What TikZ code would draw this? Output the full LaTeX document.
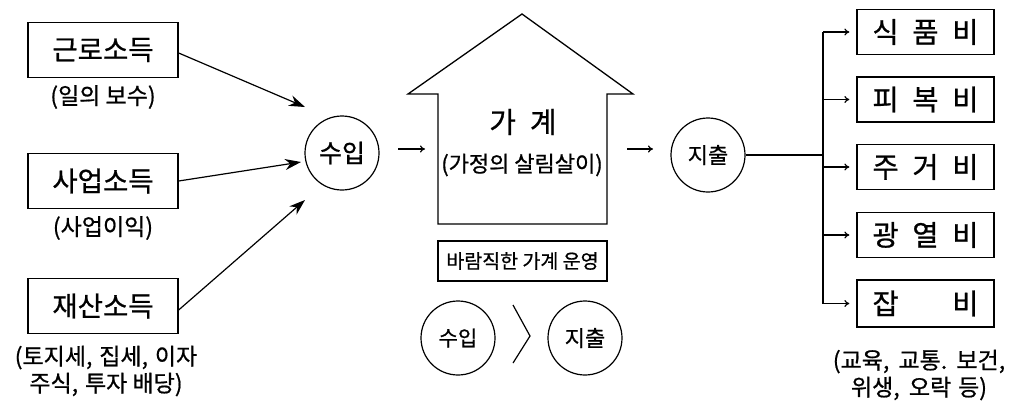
\documentclass[tikz,border=0pt]{standalone}
\usepackage{fontspec}
\newfontfamily\kr{Noto Sans CJK KR}[FakeBold=0.8]
\usetikzlibrary{arrows.meta}
\tikzset{
  box/.style={draw, line width=1.3pt, inner sep=0pt, minimum width=150pt, minimum height=55pt, font=\kr\fontsize{27.5}{30}\selectfont},
  rbox/.style={draw, line width=1.3pt, inner sep=0pt, minimum width=137pt, minimum height=45pt, font=\kr\fontsize{28.5}{30}\selectfont},
  circ/.style={draw, circle, line width=1.2pt, inner sep=0pt, minimum size=74pt},
  lbl/.style={font=\kr\fontsize{23}{27}\selectfont, align=center, inner sep=0pt},
  bigarrow/.style={line width=1.2pt, -{Stealth[length=16pt,width=11pt]}},
  sarrow/.style={line width=1.2pt, -{To[length=5pt,width=7pt]}},
}
\begin{document}
\begin{tikzpicture}[x=1pt,y=-1pt]
\useasboundingbox (0,0) rectangle (1024,400);
% left boxes
\node[box] (g1) at (103,50) {근로소득};
\node[lbl] (l1) at (103,97) {(일의 보수)};
\node[box] (g2) at (103,181) {사업소득};
\node[lbl] (l2) at (103,228) {(사업이익)};
\node[box] (g3) at (103,306) {재산소득};
\node[lbl] (l3) at (106,371) {(토지세,\hspace{0.3em}집세,\hspace{0.3em}이자\\주식,\hspace{0.3em}투자 배당)};
% income circle
\node[circ, font=\kr\fontsize{25}{27}\selectfont] (inc) at (342,153) {수입};
\coordinate (t1) at (305,107);
\coordinate (t2) at (301,162);
\coordinate (t3) at (305,200);
\draw[bigarrow] ([yshift=-3pt]g1.east) -- (t1);
\draw[bigarrow] (g2.east) -- (t2);
\draw[bigarrow] ([yshift=-4pt]g3.east) -- (t3);
% house
\draw[line width=1.3pt] (438,224) -- (438,94) -- (408,94) -- (522,14) -- (633,94) -- (607,94) -- (607,224) -- cycle;
\node[inner sep=0pt, minimum width=169pt, minimum height=130pt] (house) at (522.5,159) {};
\node[font=\kr\fontsize{29}{30}\selectfont, inner sep=0pt] (hh) at (523,122) {가\hspace{14pt}계};
\node[font=\kr\fontsize{22}{24}\selectfont, inner sep=0pt] (hs) at (522,165) {(가정의 살림살이)};
\coordinate (a1) at (398,149);
\coordinate (a2) at (425,149);
\draw[sarrow] (a1) -- (a2);
% expense circle
\node[circ, font=\kr\fontsize{22}{24}\selectfont] (exp) at (708,155) {지출};
\coordinate (b1) at (627,149);
\coordinate (b2) at (653,149);
\draw[sarrow] (b1) -- (b2);
% bottom
\node[draw, line width=1.3pt, inner sep=0pt, minimum width=169pt, minimum height=40pt, font=\kr\fontsize{19.5}{21}\selectfont] (good) at (522.5,261) {바람직한 가계 운영};
\node[circ, font=\kr\fontsize{21}{23}\selectfont] (c1) at (458,338) {수입};
\node[circ, font=\kr\fontsize{22}{24}\selectfont] (c2) at (585,338) {지출};
\draw[line width=1.2pt] (513,305) -- (530,336) -- (513,363);
% right
\coordinate (j) at (823,155);
\coordinate (jt) at (823,32);
\coordinate (jb) at (823,303.5);
\draw[line width=1.2pt] (exp.east) -- (j);
\draw[line width=1.2pt] (jt) -- (jb);
\node[rbox] (r1) at (925.5,32) {\makebox[106pt][s]{식\hfill{}품\hfill{}비}};
\node[rbox] (r2) at (925.5,99.5) {\makebox[106pt][s]{피\hfill{}복\hfill{}비}};
\node[rbox] (r3) at (925.5,167) {\makebox[106pt][s]{주\hfill{}거\hfill{}비}};
\node[rbox] (r4) at (925.5,235) {\makebox[106pt][s]{광\hfill{}열\hfill{}비}};
\node[rbox, minimum height=47pt] (r5) at (925.5,303.5) {\makebox[106pt][s]{잡\hfill{}비}};
\foreach \r in {r1,r2,r3,r4,r5}{
  \draw[sarrow, shorten >=7pt] (jt |- \r.west) -- (\r.west);
}
\node[lbl] (l5) at (919,375) {(교육,\hspace{0.4em}교통.\hspace{0.4em}보건,\\위생,\hspace{0.4em}오락\hspace{0.3em}등)};
\end{tikzpicture}
\end{document}
